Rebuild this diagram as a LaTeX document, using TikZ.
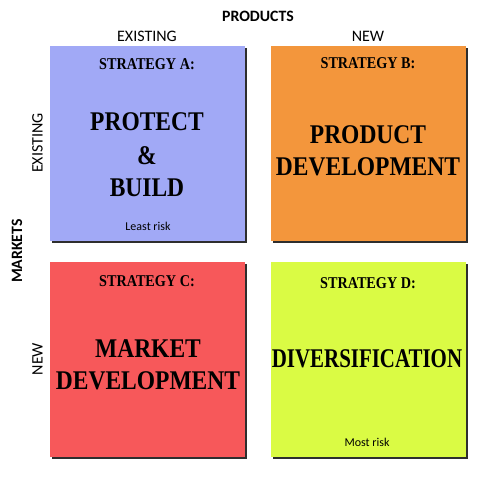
\documentclass[tikz,border=0pt]{standalone}
\usepackage{fontspec}
\setmainfont{Liberation Serif}
\newfontfamily\lblfont{Carlito}
\usetikzlibrary{positioning}
\definecolor{colA}{HTML}{A1A9F6}
\definecolor{colB}{HTML}{F3963C}
\definecolor{colC}{HTML}{F7585A}
\definecolor{colD}{HTML}{DAFB44}
\definecolor{shade}{HTML}{2E2E2E}
\tikzset{
  quad/.style={draw=none, minimum width=195pt, minimum height=195pt, inner sep=0pt, anchor=north west},
  shadowbox/.style={fill=shade, minimum width=195pt, minimum height=195pt, inner sep=0pt, anchor=north west},
  heading/.style={font=\fontsize{16.5}{18}\selectfont\bfseries, inner sep=0pt},
  bigtext/.style={font=\fontsize{27}{32}\selectfont\bfseries, inner sep=0pt, align=center},
  axislbl/.style={font=\lblfont\fontsize{16}{18}\selectfont, inner sep=0pt},
  axistitle/.style={font=\lblfont\fontsize{15.8}{18}\selectfont\bfseries, inner sep=0pt},
  risk/.style={font=\lblfont\fontsize{12}{14}\selectfont, inner sep=0pt}
}
\newcommand{\hs}[1]{\scalebox{0.86}[1]{#1}}
\newcommand{\bs}[1]{\scalebox{0.87}[1]{#1}}
\begin{document}
\begin{tikzpicture}[x=1pt,y=1pt]
\useasboundingbox (0,0) rectangle (489,-489);
% shadows
\node[shadowbox] (sA) at (52,-48) {};
\node[shadowbox] (sB) at (273,-48) {};
\node[shadowbox] (sC) at (52,-264) {};
\node[shadowbox] (sD) at (273,-264) {};
% quadrants
\node[quad, fill=colA] (A) at (50,-46) {};
\node[quad, fill=colB] (B) at (271,-46) {};
\node[quad, fill=colC] (C) at (50,-262) {};
\node[quad, fill=colD] (D) at (271,-262) {};
% headings
\node[heading] (hA) at (147,-64) {\hs{STRATEGY A:}};
\node[heading] (hB) at (368,-63) {\hs{STRATEGY B:}};
\node[heading] (hC) at (147,-281) {\hs{STRATEGY C:}};
\node[heading] (hD) at (368,-283) {\hs{STRATEGY D:}};
% big texts
\node[bigtext] (tA1) at (147,-122) {\bs{PROTECT}};
\node[bigtext] (tA2) at (147,-156) {\bs{\&}};
\node[bigtext] (tA3) at (147,-188) {\bs{BUILD}};
\node[bigtext] (tB1) at (368,-135) {\bs{PRODUCT}};
\node[bigtext] (tB2) at (368,-167) {\bs{DEVELOPMENT}};
\node[bigtext] (tC1) at (148,-349) {\bs{MARKET}};
\node[bigtext] (tC2) at (148,-381) {\bs{DEVELOPMENT}};
\node[bigtext] (tD1) at (367,-359) {\scalebox{0.775}[1]{DIVERSIFICATION}};
% risk
\node[risk] (rA) at (148,-226) {Least risk};
\node[risk] (rD) at (367,-442) {Most risk};
% axes
\node[axistitle] (prod) at (258,-16) {PRODUCTS};
\node[axislbl] (pex) at (147,-36) {EXISTING};
\node[axislbl] (pnew) at (368,-36) {NEW};
\node[axistitle, rotate=90] (mkt) at (17,-251) {MARKETS};
\node[axislbl, rotate=90] (mex) at (37.5,-143) {EXISTING};
\node[axislbl, rotate=90] (mnew) at (37.5,-359) {NEW};
\end{tikzpicture}
\end{document}
